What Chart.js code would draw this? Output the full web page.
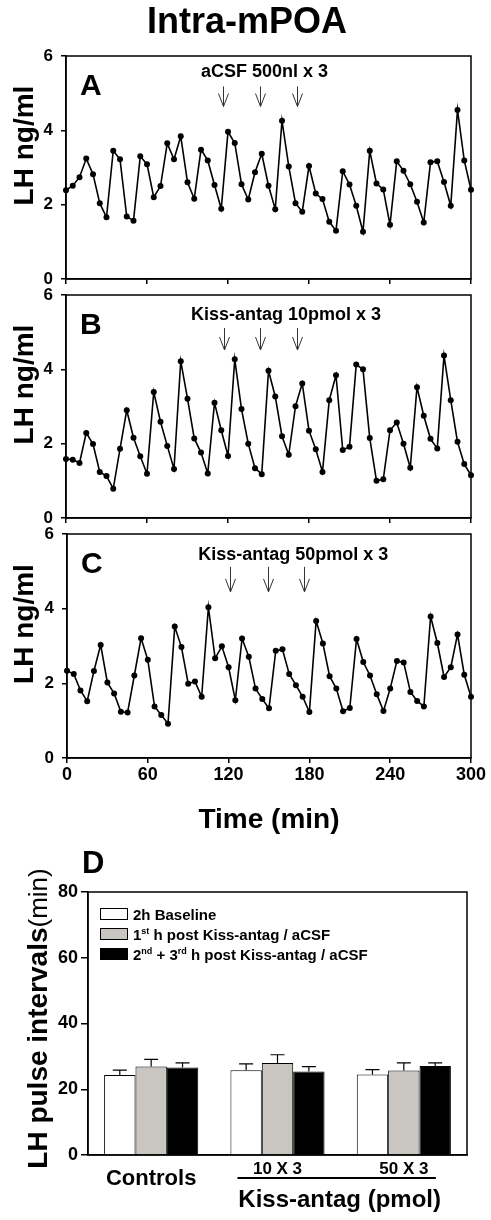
<!DOCTYPE html>
<html>
<head>
<meta charset="utf-8">
<script src="https://cdn.jsdelivr.net/npm/chart.js@4.4.1/dist/chart.umd.min.js"></script>
<style>
  html, body { margin: 0; padding: 0; background: #fff; }
  body { width: 491px; height: 1220px; position: relative; overflow: hidden; }
  canvas { position: absolute; left: 0; }
</style>
</head>
<body>
<canvas id="panel-a" width="491" height="285" style="top:0"></canvas>
<canvas id="panel-b" width="491" height="239" style="top:285px"></canvas>
<canvas id="panel-c" width="491" height="321" style="top:524px"></canvas>
<canvas id="panel-d" width="491" height="375" style="top:845px"></canvas>
<script>
// ── Data: LH sampling every 5 min (ng/ml) ──────────────────────
const sampleTimes = [0, 5, 10, 15, 20, 25, 30, 35, 40, 45, 50, 55, 60, 65, 70, 75, 80, 85, 90, 95,
  100, 105, 110, 115, 120, 125, 130, 135, 140, 145, 150, 155, 160, 165, 170, 175, 180, 185, 190, 195,
  200, 205, 210, 215, 220, 225, 230, 235, 240, 245, 250, 255, 260, 265, 270, 275, 280, 285, 290, 295, 300];

const lhA = [2.39, 2.51, 2.74, 3.24, 2.82, 2.04, 1.66, 3.45, 3.22, 1.68,
  1.57, 3.30, 3.09, 2.20, 2.50, 3.65, 3.22, 3.84, 2.60, 2.16,
  3.48, 3.19, 2.53, 1.89, 3.96, 3.66, 2.55, 2.14, 2.87, 3.37,
  2.51, 1.88, 4.26, 3.03, 2.04, 1.81, 3.04, 2.30, 2.15, 1.54,
  1.30, 2.90, 2.54, 1.97, 1.27, 3.45, 2.57, 2.41, 1.46, 3.17,
  2.91, 2.55, 2.08, 1.52, 3.14, 3.17, 2.61, 1.97, 4.55, 3.19, 2.40];

const lhB = [1.59, 1.57, 1.48, 2.29, 1.99, 1.24, 1.13, 0.79, 1.86, 2.90,
  2.16, 1.66, 1.19, 3.39, 2.59, 1.94, 1.32, 4.22, 3.21, 2.14,
  1.76, 1.20, 3.10, 2.36, 1.67, 4.27, 2.93, 2.00, 1.34, 1.18,
  3.96, 3.27, 2.20, 1.70, 3.01, 3.62, 2.35, 1.85, 1.24, 3.17,
  3.84, 1.83, 1.92, 4.13, 4.00, 2.15, 1.00, 1.04, 2.36, 2.57,
  2.00, 1.35, 3.52, 2.75, 2.13, 1.87, 4.37, 3.17, 2.05, 1.45, 1.15];

const lhC = [2.34, 2.25, 1.81, 1.52, 2.33, 3.03, 2.02, 1.73, 1.24, 1.22,
  2.21, 3.21, 2.63, 1.38, 1.15, 0.92, 3.52, 2.97, 1.99, 2.05,
  1.64, 4.04, 2.67, 2.99, 2.43, 1.55, 3.20, 2.71, 1.86, 1.58,
  1.33, 2.87, 2.91, 2.25, 1.95, 1.64, 1.23, 3.67, 3.07, 2.19,
  1.86, 1.25, 1.34, 3.19, 2.57, 2.21, 1.71, 1.26, 1.86, 2.60,
  2.56, 1.77, 1.53, 1.38, 3.79, 3.08, 2.17, 2.43, 3.31, 2.23, 1.64];

// injection times (min), as marked by the arrows
const injectionsA = [116, 144, 171];
const injectionsB = [117, 144, 171];
const injectionsC = [121, 149, 176];

const timeTicks = [0, 60, 120, 180, 240, 300];
const lhTicks = [0, 2, 4, 6];

// ── Data: LH pulse intervals (min), mean + SEM ─────────────────
const groups = ['Controls', '10 X 3', '50 X 3'];
const doseAxisTitle = 'Kiss-antag (pmol)';
const seriesNames = ['2h Baseline', '1^st h post Kiss-antag / aCSF', '2^nd + 3^rd h post Kiss-antag / aCSF'];
const baselineMean = [24.3, 25.8, 24.5];
const post1Mean = [26.9, 28.0, 25.7];
const post23Mean = [26.6, 25.4, 27.1];
const baselineSem = [1.5, 1.9, 1.5];
const post1Sem = [2.2, 2.5, 2.3];
const post23Sem = [1.4, 1.5, 0.9];
const intervalTicks = [0, 20, 40, 60, 80];

// ── Helpers ────────────────────────────────────────────────────
const FONT = '"Liberation Sans", Arial, Helvetica, sans-serif';
const bold = size => `bold ${size}px ${FONT}`;

// text with ^sup tokens (1^st, 2^nd ...)
function drawRich(ctx, text, x, y, size) {
  ctx.textAlign = 'left';
  ctx.textBaseline = 'alphabetic';
  for (const t of text.split(/(\^[a-z]+)/)) {
    if (!t) continue;
    if (t[0] === '^') {
      ctx.font = bold(Math.round(size * 0.62));
      ctx.fillText(t.slice(1), x, y - size * 0.38);
      x += ctx.measureText(t.slice(1)).width;
    } else {
      ctx.font = bold(size);
      ctx.fillText(t, x, y);
      x += ctx.measureText(t).width;
    }
  }
}

function drawVertical(ctx, parts, baselineX, cy) {
  ctx.save();
  ctx.translate(baselineX, cy);
  ctx.rotate(-Math.PI / 2);
  ctx.textAlign = 'left';
  ctx.textBaseline = 'alphabetic';
  let total = 0;
  for (const p of parts) { ctx.font = p.font; total += ctx.measureText(p.text).width; }
  let x = -total / 2;
  for (const p of parts) {
    ctx.font = p.font;
    ctx.fillText(p.text, x, 0);
    x += ctx.measureText(p.text).width;
  }
  ctx.restore();
}

// ── Decorations plugin (frame, letters, titles, arrows, legend, error bars) ──
const figureDecor = {
  id: 'figureDecor',
  beforeDatasetsDraw(chart) {
    const { ctx, chartArea: a } = chart;
    ctx.save();
    ctx.strokeStyle = '#000';
    ctx.lineWidth = 1.5;
    ctx.strokeRect(a.left, a.top, a.right - a.left, a.bottom - a.top);
    ctx.restore();
  },
  afterDatasetsDraw(chart, args, o) {
    if (!o.errorBars) return;
    const { ctx, scales: { y } } = chart;
    ctx.save();
    ctx.strokeStyle = '#000';
    ctx.lineWidth = 1.2;
    chart.data.datasets.forEach((ds, di) => {
      chart.getDatasetMeta(di).data.forEach((bar, i) => {
        const top = y.getPixelForValue(ds.data[i] + ds.sem[i]);
        ctx.beginPath();
        ctx.moveTo(bar.x, bar.y);
        ctx.lineTo(bar.x, top);
        ctx.moveTo(bar.x - 7, top);
        ctx.lineTo(bar.x + 7, top);
        ctx.stroke();
      });
    });
    ctx.restore();
  },
  afterDraw(chart, args, o) {
    const { ctx, chartArea: a, scales } = chart;
    ctx.save();
    ctx.fillStyle = '#000';

    if (o.title) {
      ctx.font = bold(36);
      ctx.textAlign = 'center';
      ctx.fillText(o.title.text, o.title.x, o.title.y);
    }
    if (o.letter) {
      ctx.font = bold(o.letter.size);
      ctx.textAlign = 'left';
      ctx.fillText(o.letter.text, a.left + o.letter.dx, a.top + o.letter.dy);
    }
    if (o.yTitle) {
      drawVertical(ctx, o.yTitle.parts, o.yTitle.x, (a.top + a.bottom) / 2 + o.yTitle.dy);
    }
    if (o.note) {
      ctx.font = bold(18);
      ctx.textAlign = 'center';
      ctx.fillText(o.note.text, scales.x.getPixelForValue(o.note.x), scales.y.getPixelForValue(o.note.y));
    }
    if (o.arrows) {
      ctx.strokeStyle = '#333';
      ctx.lineWidth = 1;
      for (const t of o.arrows.times) {
        const x = Math.round(scales.x.getPixelForValue(t)) + 0.5;
        const y0 = scales.y.getPixelForValue(o.arrows.from);
        const y1 = scales.y.getPixelForValue(o.arrows.to);
        ctx.beginPath();
        ctx.moveTo(x, y0);
        ctx.lineTo(x, y1);
        ctx.moveTo(x - 5, y1 - 13);
        ctx.lineTo(x, y1);
        ctx.lineTo(x + 5, y1 - 13);
        ctx.stroke();
      }
    }
    if (o.legend) {
      chart.data.datasets.forEach((ds, i) => {
        const cy = a.top + o.legend.dy + i * 20;
        const bx = a.left + o.legend.dx;
        ctx.fillStyle = ds.backgroundColor;
        ctx.fillRect(bx, cy - 5.5, 27, 11);
        ctx.strokeStyle = '#000';
        ctx.lineWidth = 1;
        ctx.strokeRect(bx + 0.5, cy - 5.5, 27, 11);
        ctx.fillStyle = '#000';
        drawRich(ctx, ds.label, bx + 33, cy + 5.5, 15);
      });
    }
    if (o.doseAxis) {
      const x1 = scales.x.getPixelForValue(1) - 40;
      const x2 = scales.x.getPixelForValue(2) + 32;
      const yl = a.bottom + 23;
      ctx.strokeStyle = '#000';
      ctx.lineWidth = 2.2;
      ctx.beginPath();
      ctx.moveTo(x1, yl);
      ctx.lineTo(x2, yl);
      ctx.stroke();
      ctx.font = bold(24);
      ctx.textAlign = 'center';
      ctx.fillText(o.doseAxis.text, (x1 + x2) / 2 + 3, a.bottom + 52);
    }
    ctx.restore();
  }
};

// ── LH profile panels ──────────────────────────────────────────
function lhPanel(id, values, cfg) {
  return new Chart(document.getElementById(id), {
    type: 'line',
    data: {
      datasets: [{
        data: sampleTimes.map((t, i) => ({ x: t, y: values[i] })),
        borderColor: '#000',
        borderWidth: 1.6,
        pointRadius: 3,
        pointBackgroundColor: '#000',
        pointBorderWidth: 0,
        tension: 0,
        clip: false,
      }],
    },
    options: {
      responsive: false,
      animation: false,
      events: [],
      layout: { padding: { top: cfg.padTop, right: 20, left: 0, bottom: 0 } },
      plugins: {
        legend: { display: false },
        tooltip: { enabled: false },
        figureDecor: {
          title: cfg.title,
          letter: { text: cfg.letter, size: 30, dx: 14, dy: 39 },
          yTitle: { parts: [{ text: 'LH ng/ml', font: bold(28) }], x: 33, dy: -22 },
          note: cfg.note,
          arrows: cfg.arrows,
        },
      },
      scales: {
        x: {
          type: 'linear', min: 0, max: 300,
          afterBuildTicks: s => { s.ticks = timeTicks.map(v => ({ value: v })); },
          grid: { drawOnChartArea: false, drawTicks: true, tickLength: 5, color: '#000', lineWidth: 1.5 },
          border: { display: true, color: '#000', width: 1.5 },
          ticks: { display: cfg.showTime, color: '#000', padding: 1, maxRotation: 0, font: { family: FONT, size: 18, weight: 'bold' } },
          title: { display: cfg.showTime, text: 'Time (min)', color: '#000', font: { family: FONT, size: 28, weight: 'bold' }, padding: { top: 0, bottom: 8 } },
          afterFit: s => { s.height = cfg.xHeight; s.paddingLeft = 0; s.paddingRight = 0; },
        },
        y: {
          min: 0, max: 6,
          afterBuildTicks: s => { s.ticks = lhTicks.map(v => ({ value: v })); },
          grid: { drawOnChartArea: false, drawTicks: true, tickLength: 5, color: '#000', lineWidth: 1.5 },
          border: { display: true, color: '#000', width: 1.5 },
          ticks: { color: '#000', padding: 8, font: { family: FONT, size: 17, weight: 'bold' } },
          afterFit: s => { s.width = cfg.yWidth; s.paddingTop = 0; s.paddingBottom = 0; },
        },
      },
    },
    plugins: [figureDecor],
  });
}

lhPanel('panel-a', lhA, {
  padTop: 56, xHeight: 6, yWidth: 66, showTime: false, letter: 'A',
  title: { text: 'Intra-mPOA', x: 247, y: 33 },
  note: { text: 'aCSF 500nl x 3', x: 147, y: 5.43 },
  arrows: { times: injectionsA, from: 5.18, to: 4.64 },
});
lhPanel('panel-b', lhB, {
  padTop: 10, xHeight: 6, yWidth: 66, showTime: false, letter: 'B',
  note: { text: 'Kiss-antag 10pmol x 3', x: 163, y: 5.33 },
  arrows: { times: injectionsB, from: 5.11, to: 4.52 },
});
lhPanel('panel-c', lhC, {
  padTop: 10, xHeight: 87, yWidth: 67, showTime: true, letter: 'C',
  note: { text: 'Kiss-antag 50pmol x 3', x: 168, y: 5.30 },
  arrows: { times: injectionsC, from: 5.12, to: 4.45 },
});

// ── Pulse interval bar panel ───────────────────────────────────
new Chart(document.getElementById('panel-d'), {
  type: 'bar',
  data: {
    labels: groups,
    datasets: [
      { label: seriesNames[0], data: baselineMean, sem: baselineSem, backgroundColor: '#ffffff' },
      { label: seriesNames[1], data: post1Mean, sem: post1Sem, backgroundColor: '#c9c6c2' },
      { label: seriesNames[2], data: post23Mean, sem: post23Sem, backgroundColor: '#000000' },
    ],
  },
  options: {
    responsive: false,
    animation: false,
    events: [],
    datasets: { bar: { borderColor: '#000', borderWidth: 1, categoryPercentage: 0.745, barPercentage: 1 } },
    layout: { padding: { top: 47, right: 24, left: 0, bottom: 0 } },
    plugins: {
      legend: { display: false },
      tooltip: { enabled: false },
      figureDecor: {
        letter: { text: 'D', size: 31, dx: -6, dy: -19 },
        yTitle: { parts: [{ text: 'LH pulse intervals', font: bold(28) }, { text: '(min)', font: `26px ${FONT}` }], x: 47, dy: -5 },
        legend: { dx: 12, dy: 22 },
        errorBars: true,
        doseAxis: { text: doseAxisTitle },
      },
    },
    scales: {
      x: {
        grid: { display: true, drawOnChartArea: false, drawTicks: false },
        border: { display: true, color: '#000', width: 1.5 },
        ticks: {
          color: '#000', padding: 11, maxRotation: 0, autoSkip: false,
          font: c => c.index === 0
            ? { family: FONT, size: 22, weight: 'bold', lineHeight: 1.2 }
            : { family: FONT, size: 17, weight: 'bold', lineHeight: 0.38 },
        },
        afterFit: s => { s.height = 65; s.paddingLeft = 0; s.paddingRight = 0; },
      },
      y: {
        min: 0, max: 80,
        afterBuildTicks: s => { s.ticks = intervalTicks.map(v => ({ value: v })); },
        grid: { drawOnChartArea: false, drawTicks: true, tickLength: 7, color: '#000', lineWidth: 1.5 },
        border: { display: true, color: '#000', width: 1.5 },
        ticks: { color: '#000', padding: 3, font: { family: FONT, size: 18, weight: 'bold' } },
        afterFit: s => { s.width = 88; s.paddingTop = 0; s.paddingBottom = 0; },
      },
    },
  },
  plugins: [figureDecor],
});
</script>
</body>
</html>
